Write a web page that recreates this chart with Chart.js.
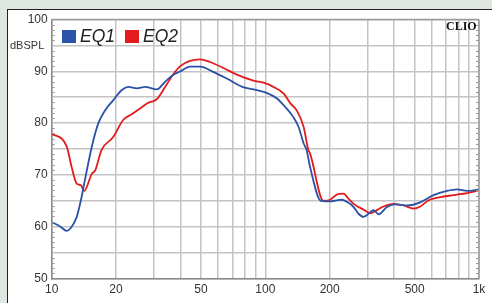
<!DOCTYPE html>
<html>
<head>
<meta charset="utf-8">
<script src="https://cdn.jsdelivr.net/npm/chart.js@4.4.1/dist/chart.umd.min.js"></script>
<style>
  html, body { margin: 0; padding: 0; }
  body { width: 492px; height: 303px; background: #dfe5df; position: relative; overflow: hidden; font-family: "Liberation Sans", Arial, sans-serif; }
  #panel { position: absolute; left: 7px; top: 9px; width: 500px; height: 310px; background: #fff; border-left: 1.5px solid #222; border-top: 1.5px solid #222; }
  #wrap { position: absolute; left: 0; top: 0; width: 492px; height: 303px; }
  #legend { position: absolute; left: 62px; top: 26px; font-size: 17.5px; font-style: italic; color: #222; white-space: nowrap; }
  #legend span.box { display: inline-block; width: 14px; height: 13px; vertical-align: -1px; margin-right: 4px; }
  #legend span.item { margin-right: 10px; }
  #unit { position: absolute; left: 10px; top: 39px; font-size: 11px; color: #333; }
  #clio { position: absolute; left: 446px; top: 19px; font-family: "Liberation Serif", serif; font-weight: bold; font-size: 12px; color: #111; }
</style>
</head>
<body>
<div id="panel"></div>
<div id="wrap"><canvas id="chart" width="492" height="303"></canvas></div>
<div id="legend"></div>
<div id="unit">dBSPL</div>
<div id="clio">CLIO</div>
<script>
// frequency response
var freqEq1 = [10, 11, 11.75, 12.2, 13.1, 13.7, 14.3, 15.4, 16.5, 17.8, 19.4, 21.3, 22.9, 25, 27.4, 31, 34, 37, 40, 44.4, 49.5, 57, 66, 78, 90, 102, 113, 124, 135, 143, 151, 156, 162, 182, 201, 216, 228, 241, 259, 273, 288, 304, 321, 339, 371, 405, 460, 531, 613, 708, 789, 879, 1000];
var dbEq1 = [60.9, 60.0, 59.2, 59.6, 61.9, 65.1, 69.0, 75.4, 79.9, 82.5, 84.4, 86.4, 87.0, 86.7, 87.0, 86.5, 88.0, 89.3, 90.0, 90.9, 90.9, 89.9, 88.6, 87.0, 86.4, 85.8, 84.8, 83.1, 81.2, 79.3, 76.1, 74.8, 71.5, 65.0, 64.9, 65.1, 65.2, 64.8, 63.8, 62.5, 61.9, 62.5, 63.2, 62.4, 63.8, 64.3, 64.1, 64.7, 66.1, 66.9, 67.2, 66.9, 67.2];

var freqEq2 = [10, 11.75, 12.4, 13.1, 13.7, 14.2, 15.4, 16, 17.1, 19.4, 21.6, 23.7, 25.9, 27.9, 31, 34, 37, 40, 44.4, 49.5, 55, 64, 74, 88, 98, 109, 122, 131, 140, 151, 159, 162, 187, 201, 216, 232, 245, 259, 288, 310, 333, 357, 398, 444, 494, 531, 581, 659, 761, 879, 1000];
var dbEq2 = [78.0, 75.5, 71.5, 68.3, 68.0, 66.9, 70.2, 70.9, 74.8, 77.3, 80.6, 81.7, 82.8, 83.8, 84.6, 87.0, 89.4, 91.0, 92.0, 92.3, 91.8, 90.6, 89.3, 88.2, 87.8, 87.0, 85.7, 83.8, 82.5, 79.3, 74.8, 74.1, 65.0, 65.2, 66.2, 66.4, 65.4, 64.4, 63.3, 62.6, 63.2, 63.9, 64.4, 64.1, 63.5, 63.9, 65.1, 65.7, 66.1, 66.5, 67.0];

var xGrid = [10, 20, 30, 40, 50, 60, 70, 80, 90, 100, 200, 300, 400, 500, 600, 700, 800, 900, 1000];
var xLabels = { 10: '10', 20: '20', 50: '50', 100: '100', 200: '200', 500: '500', 1000: '1k' };
var yLabels = [50, 60, 70, 80, 90, 100];

var seriesNames = ['EQ1', 'EQ2'];
var seriesColors = ['#2a52a6', '#e21c1c'];

function toPoints(xs, ys) {
	var pts = [];
	for (var i = 0; i < xs.length; i++) {
		pts.push({ x: xs[i], y: ys[i] });
	}
	return pts;
}

// legend in the plot corner
var legendHtml = '';
for (var i = 0; i < seriesNames.length; i++) {
	legendHtml += '<span class="item"><span class="box" style="background:' + seriesColors[i] + '"></span>' + seriesNames[i] + '</span>';
}
document.getElementById('legend').innerHTML = legendHtml;

// right frame edge + small tick marks along left and right edges, every 1 dB
var frameTicks = {
	id: 'frameTicks',
	afterDatasetsDraw: function(chart) {
		var ctx = chart.ctx;
		var y = chart.scales.y;
		var a = chart.chartArea;
		ctx.save();
		ctx.strokeStyle = '#999';
		ctx.lineWidth = 1;
		ctx.beginPath();
		for (var v = 50; v <= 100; v++) {
			if (v % 5 == 0) continue;
			var py = Math.round(y.getPixelForValue(v)) + 0.5;
			ctx.moveTo(a.left, py);
			ctx.lineTo(a.left + 3, py);
			ctx.moveTo(a.right - 3, py);
			ctx.lineTo(a.right, py);
		}
		ctx.stroke();
		ctx.strokeStyle = '#9a9a9a';
		ctx.lineWidth = 1.5;
		ctx.beginPath();
		ctx.moveTo(a.right, a.top);
		ctx.lineTo(a.right, a.bottom);
		ctx.moveTo(a.left, a.top);
		ctx.lineTo(a.right, a.top);
		ctx.stroke();
		ctx.restore();
	}
};

var chart = new Chart(document.getElementById('chart'), {
	type: 'scatter',
	data: {
		datasets: [{
			label: seriesNames[0],
			data: toPoints(freqEq1, dbEq1),
			borderColor: seriesColors[0],
			borderWidth: 1.8,
			showLine: true,
			pointRadius: 0,
			cubicInterpolationMode: 'monotone'
		}, {
			label: seriesNames[1],
			data: toPoints(freqEq2, dbEq2),
			borderColor: seriesColors[1],
			borderWidth: 1.8,
			showLine: true,
			pointRadius: 0,
			cubicInterpolationMode: 'monotone'
		}]
	},
	options: {
		responsive: false,
		animation: false,
		layout: { padding: { top: 19.5, right: 13, left: 0, bottom: 0 } },
		plugins: { legend: { display: false }, tooltip: { enabled: false } },
		scales: {
			x: {
				type: 'logarithmic',
				min: 10,
				max: 1000,
				afterBuildTicks: function(scale) {
					scale.ticks = xGrid.map(function(v) { return { value: v }; });
				},
				afterFit: function(scale) { scale.height = 24.5; },
				ticks: {
					autoSkip: false,
					maxRotation: 0,
					padding: 4,
					color: '#333',
					font: { family: 'Liberation Sans', size: 12 },
					callback: function(v) { return xLabels[v] || ''; }
				},
				grid: { color: '#c4c4c4', lineWidth: 1.5, drawTicks: false },
				border: { color: '#8a8a8a', width: 1.5 }
			},
			y: {
				min: 50,
				max: 100,
				afterBuildTicks: function(scale) {
					var t = [];
					for (var v = 50; v <= 100; v += 5) t.push({ value: v });
					scale.ticks = t;
				},
				afterFit: function(scale) { scale.width = 51.7; },
				ticks: {
					padding: 4,
					color: '#333',
					font: { family: 'Liberation Sans', size: 12 },
					callback: function(v) { return yLabels.indexOf(v) >= 0 ? String(v) : ''; }
				},
				grid: { color: '#c4c4c4', lineWidth: 1.5, drawTicks: false },
				border: { color: '#8a8a8a', width: 1.5 }
			}
		}
	},
	plugins: [frameTicks]
});
</script>
</body>
</html>
